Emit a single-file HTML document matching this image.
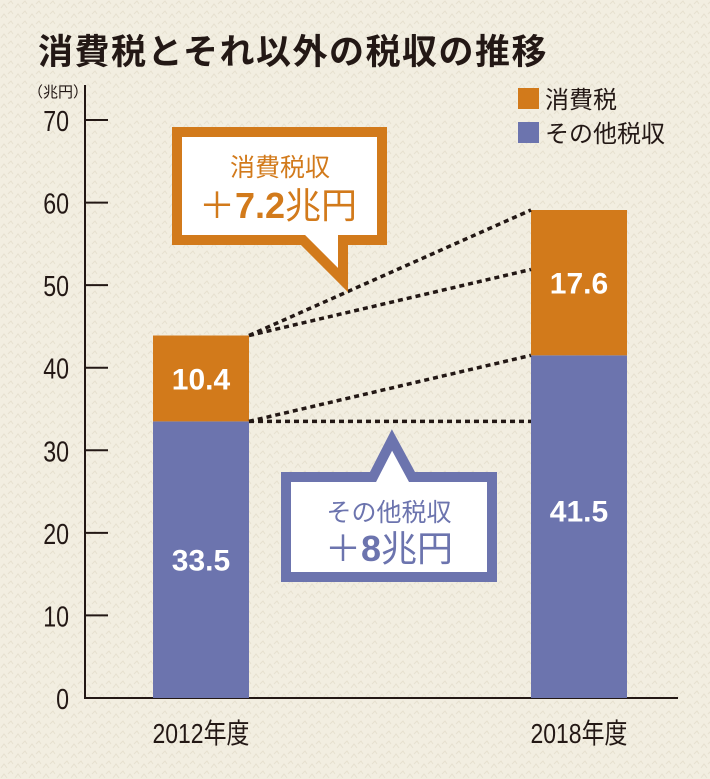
<!DOCTYPE html>
<html><head><meta charset="utf-8"><style>
body{margin:0;width:710px;height:779px;background:#f2eee1;overflow:hidden;font-family:"Liberation Sans","Noto Sans CJK JP",sans-serif}
svg{position:absolute;left:0;top:0}
</style></head><body>
<svg width="710" height="779" id="chart">
<defs><pattern id="tex" width="14" height="10" patternUnits="userSpaceOnUse"><path d="M1 8 L4 4 L7 8 M8 4 L11 1 L13 4" stroke="#e6e0cf" stroke-width="1" fill="none"/></pattern></defs>
<rect width="710" height="779" fill="url(#tex)"/>
<text x="38" y="64" font-size="35" font-weight="bold" fill="#231815" letter-spacing="1.5" font-family="Liberation Sans,Noto Sans CJK JP,sans-serif">消費税とそれ以外の税収の推移</text>
<text x="28" y="97" font-size="15" fill="#231815" font-family="Liberation Sans,Noto Sans CJK JP,sans-serif">（兆円）</text>
<g id="legend">
<rect x="518" y="88" width="21" height="21" fill="#d27a1b"/>
<text x="545" y="108" font-size="24" fill="#231815" font-family="Liberation Sans,Noto Sans CJK JP,sans-serif">消費税</text>
<rect x="518" y="122" width="21" height="21" fill="#6c74ae"/>
<text x="545" y="142" font-size="24" fill="#231815" font-family="Liberation Sans,Noto Sans CJK JP,sans-serif">その他税収</text>
</g>
<g id="axes"></g><g id="bars"></g><g id="lines"></g>
<g id="callouts">
<path d="M177 132 H382 V240 H343 V280 L303 240 H177 Z" fill="#fff" stroke="#d27a1b" stroke-width="10" stroke-linejoin="miter"/>
<text x="280" y="176" font-size="25" fill="#d27a1b" text-anchor="middle" font-family="Liberation Sans,Noto Sans CJK JP,sans-serif">消費税収</text>
<text x="278" y="218" font-size="36" fill="#d27a1b" text-anchor="middle" font-family="Liberation Sans,Noto Sans CJK JP,sans-serif"><tspan font-weight="normal">＋</tspan><tspan font-weight="bold">7.2</tspan>兆円</text>
<path d="M286 477 H373 L392 440 L412 477 H492 V577 H286 Z" fill="#fff" stroke="#6c74ae" stroke-width="10"/>
<text x="389" y="521" font-size="25" fill="#6c74ae" text-anchor="middle" font-family="Liberation Sans,Noto Sans CJK JP,sans-serif">その他税収</text>
<text x="389" y="561" font-size="36" fill="#6c74ae" text-anchor="middle" font-family="Liberation Sans,Noto Sans CJK JP,sans-serif">＋<tspan font-weight="bold">8</tspan>兆円</text>
</g>
</svg>
<script>
const categories=["2012年度","2018年度"];
const otherTax=[33.5,41.5];
const consumptionTax=[10.4,17.6];
const yTicks=[0,10,20,30,40,50,60,70];
const NS="http://www.w3.org/2000/svg";
const y0=698,yScale=(698-120)/70;
function y(v){return y0-v*yScale;}
const barX=[153,531],barW=96;
function x(i){return barX[i];}
function mk(tag,attrs,parent,text){const e=document.createElementNS(NS,tag);for(const k in attrs)e.setAttribute(k,attrs[k]);if(text!==undefined)e.textContent=text;parent.appendChild(e);return e;}
const axes=document.getElementById('axes'),bars=document.getElementById('bars'),lines=document.getElementById('lines');
let a=mk('line',{x1:85,y1:85,x2:85,y2:y0+1,stroke:'#231815','stroke-width':2},axes);


a=mk('line',{x1:84,y1:y0,x2:678,y2:y0,stroke:'#231815','stroke-width':2},axes);


yTicks.forEach(t=>{
 if(t>0){const l=mk('line',{x1:85,y1:y(t),x2:108,y2:y(t),stroke:'#231815','stroke-width':2},axes);
 
 }
 const tx=mk('text',{x:69,y:y(t)+11,'font-size':29,'text-anchor':'end',fill:'#231815',transform:`translate(69,0) scale(0.8,1) translate(-69,0)`},axes,String(t));
 
 
});
categories.forEach((c,i)=>{
 const cx=x(i)+barW/2;
 const t=mk('text',{x:cx,y:y0+45,'font-size':28,'text-anchor':'middle',fill:'#231815',transform:`translate(${cx},0) scale(0.82,1) translate(${-cx},0)`,'font-family':'Liberation Sans,Noto Sans CJK JP,sans-serif'},axes,c);
 
 
 const o=mk('rect',{x:x(i),y:y(otherTax[i]),width:barW,height:y0-y(otherTax[i]),fill:'#6c74ae'},bars);
 
 
 const top=otherTax[i]+consumptionTax[i];
 const r=mk('rect',{x:x(i),y:y(top),width:barW,height:y(otherTax[i])-y(top),fill:'#d27a1b'},bars);
 
 
 const l1=mk('text',{x:cx,y:(y(otherTax[i])+y0)/2+11-(i===1?16:0),'font-size':30,'font-weight':'bold','text-anchor':'middle',fill:'#fff'},bars,otherTax[i].toFixed(1));
 
 
 const l2=mk('text',{x:cx,y:(y(top)+y(otherTax[i]))/2+11,'font-size':30,'font-weight':'bold','text-anchor':'middle',fill:'#fff'},bars,consumptionTax[i].toFixed(1));
 
 
});
const xa=x(0)+barW,xb=x(1);
const t0=otherTax[0]+consumptionTax[0],t1=otherTax[1]+consumptionTax[1];
[[t0,t1],[t0,otherTax[1]+consumptionTax[0]],[otherTax[0],otherTax[1]],[otherTax[0],otherTax[0]]].forEach(p=>{
 const l=mk('line',{x1:xa,y1:y(p[0]),x2:xb,y2:y(p[1]),stroke:'#231815','stroke-width':3.5,'stroke-dasharray':'5 4'},lines);
 
 
});
</script>
</body></html>
